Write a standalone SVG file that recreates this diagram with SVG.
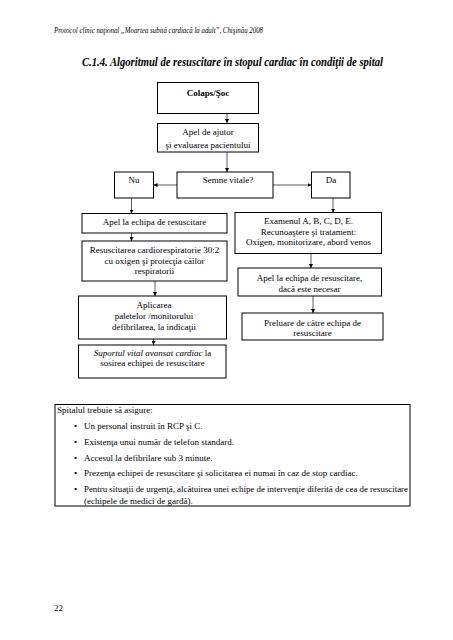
<svg xmlns="http://www.w3.org/2000/svg" width="453" height="640" viewBox="0 0 453 640">
<style>
text{font-family:"Liberation Serif","Times New Roman",serif;fill:#000}
.t{font-size:9px}
.c{text-anchor:middle}
.hdr{font-size:7.5px;font-style:italic}
.ttl{font-size:12px;font-style:italic;font-weight:bold}
.box{fill:#fff;stroke:#000;stroke-width:1}
.ln{stroke:#333;stroke-width:0.8;fill:none;marker-end:url(#ah)}
</style>
<defs>
<marker id="ah" viewBox="0 0 8 8" refX="8" refY="4" markerWidth="4" markerHeight="4" orient="auto" markerUnits="userSpaceOnUse">
<path d="M0,0 L8,4 L0,8 Z" fill="#000"/>
</marker>
</defs>
<rect width="453" height="640" fill="#fff"/>
<text class="hdr" x="54" y="33" textLength="209" lengthAdjust="spacingAndGlyphs">Protocol clinic naţional „Moartea subită cardiacă la adult”, Chişinău 2008</text>
<text class="ttl" x="82" y="66" textLength="301" lengthAdjust="spacingAndGlyphs">C.1.4. Algoritmul de resuscitare în stopul cardiac în condiţii de spital</text>

<g id="connectors">
<line class="ln" x1="227" y1="113" x2="227" y2="123"/>
<line class="ln" x1="227" y1="152" x2="227" y2="172"/>
<line class="ln" x1="177" y1="185" x2="153.5" y2="185"/>
<line class="ln" x1="273" y1="185" x2="311.5" y2="185"/>
<line class="ln" x1="131.5" y1="198" x2="131.5" y2="213.5"/>
<line class="ln" x1="333" y1="198" x2="333" y2="212.5"/>
<line class="ln" x1="131.5" y1="233" x2="131.5" y2="241"/>
<line class="ln" x1="155" y1="281" x2="155" y2="296"/>
<line class="ln" x1="153.5" y1="339" x2="153.5" y2="345"/>
<line class="ln" x1="311" y1="253.5" x2="311" y2="268"/>
<line class="ln" x1="313" y1="296" x2="313" y2="313"/>
</g>

<g id="colaps">
<rect class="box" x="157.5" y="82.5" width="101" height="31"/>
<text class="t c" x="208" y="96" font-weight="bold">Colaps/Şoc</text>
</g>
<g id="apel-ajutor">
<rect class="box" x="157.5" y="123.5" width="101" height="28.5"/>
<text class="t c" x="208" y="134.5">Apel de ajutor</text>
<text class="t c" x="208" y="148">şi evaluarea pacientului</text>
</g>
<g id="semne">
<rect class="box" x="177" y="172" width="96" height="26"/>
<text class="t c" x="228" y="182.5">Semne vitale?</text>
</g>
<g id="nu">
<rect class="box" x="114.5" y="172" width="39" height="26"/>
<text class="t c" x="134" y="182.5">Nu</text>
</g>
<g id="da">
<rect class="box" x="311.5" y="172" width="38.5" height="26"/>
<text class="t c" x="331" y="182.5">Da</text>
</g>

<g id="apel-echipa">
<rect class="box" x="82" y="213.5" width="145" height="19.5"/>
<text class="t c" x="154.5" y="224.5">Apel la echipa de resuscitare</text>
</g>
<g id="resuscitarea">
<rect class="box" x="82" y="241" width="145" height="40"/>
<text class="t c" x="154.5" y="253">Resuscitarea cardiorespiratorie 30:2</text>
<text class="t c" x="154.5" y="263.5">cu oxigen şi protecţia căilor</text>
<text class="t c" x="154.5" y="274">respiratorii</text>
</g>
<g id="aplicarea">
<rect class="box" x="78.5" y="296" width="148" height="43"/>
<text class="t c" x="154" y="308">Aplicarea</text>
<text class="t c" x="154" y="318.5">paletelor /monitorului</text>
<text class="t c" x="154" y="329.5">defibrilarea, la indicaţii</text>
</g>
<g id="suportul">
<rect class="box" x="78.5" y="345" width="147.5" height="33"/>
<text class="t c" x="152.5" y="355.5"><tspan font-style="italic">Suportul vital avansat cardiac</tspan> la</text>
<text class="t c" x="152.5" y="366">sosirea echipei de resuscitare</text>
</g>

<g id="examenul">
<rect class="box" x="235" y="212.5" width="146.5" height="41"/>
<text class="t c" x="308.5" y="224">Examenul A, B, C, D, E.</text>
<text class="t c" x="308.5" y="234.5">Recunoaştere şi tratament:</text>
<text class="t c" x="308.5" y="245">Oxigen, monitorizare, abord venos</text>
</g>
<g id="apel-necesar">
<rect class="box" x="238" y="268" width="143.5" height="28"/>
<text class="t c" x="309.5" y="281">Apel la echipa de resuscitare,</text>
<text class="t c" x="309.5" y="291.5">dacă este necesar</text>
</g>
<g id="preluare">
<rect class="box" x="242" y="313" width="141" height="27"/>
<text class="t c" x="312.5" y="325.5">Preluare de către echipa de</text>
<text class="t c" x="312.5" y="335.5">resuscitare</text>
</g>

<g id="spitalul">
<rect class="box" x="55" y="404.5" width="355" height="101.5"/>
<text class="t" x="57" y="413">Spitalul trebuie să asigure:</text>
<text class="t" x="74" y="429">•</text><text class="t" x="84" y="429">Un personal instruit în RCP şi C.</text>
<text class="t" x="74" y="445">•</text><text class="t" x="84" y="445">Existenţa unui număr de telefon standard.</text>
<text class="t" x="74" y="460.5">•</text><text class="t" x="84" y="460.5">Accesul la defibrilare sub 3 minute.</text>
<text class="t" x="74" y="476">•</text><text class="t" x="84" y="476">Prezenţa echipei de resuscitare şi solicitarea ei numai în caz de stop cardiac.</text>
<text class="t" x="74" y="492">•</text><text class="t" x="84" y="492" textLength="324" lengthAdjust="spacingAndGlyphs">Pentru situaţii de urgenţă, alcătuirea unei echipe de intervenţie diferită de cea de resuscitare</text>
<text class="t" x="84" y="503.5">(echipele de medici de gardă).</text>
</g>
<text class="t" x="54" y="611">22</text>
</svg>
